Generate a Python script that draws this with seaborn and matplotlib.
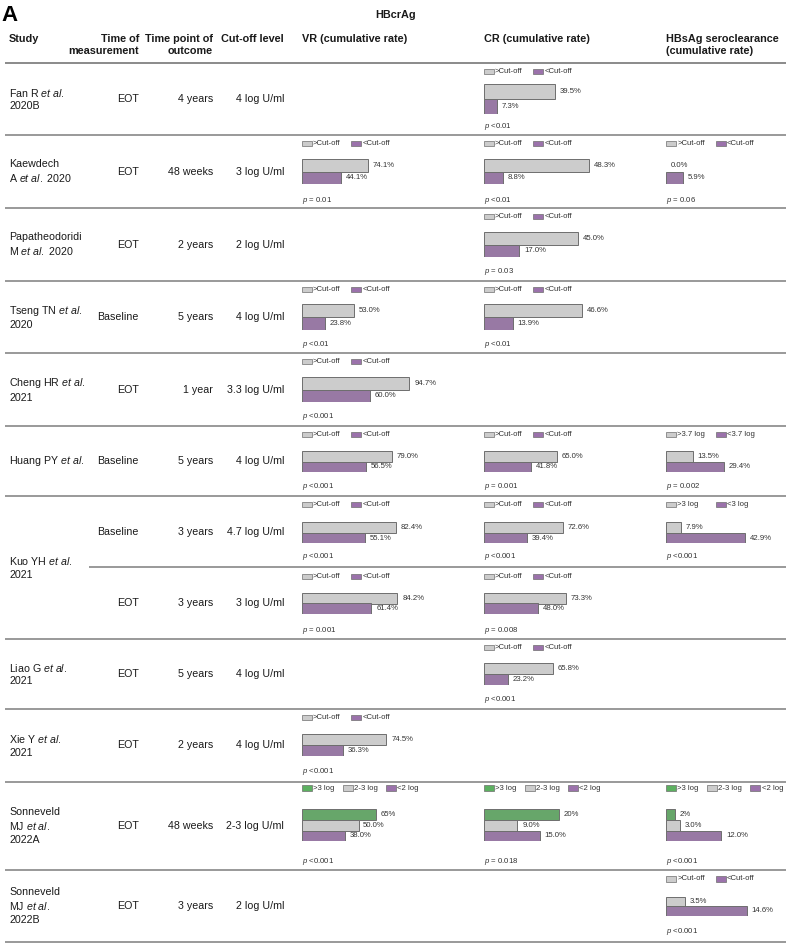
import numpy as np
import pandas as pd
import matplotlib
matplotlib.use("Agg")
import matplotlib.pyplot as plt
import seaborn as sns
from matplotlib.patches import Rectangle

# ---------------- data ----------------
study_labels = ["Fan R et al.\n2020B", "Kaewdech\nA et al. 2020", "Papatheodoridi\nM et al. 2020",
                "Tseng TN et al.\n2020", "Cheng HR et al.\n2021", "Huang PY et al.",
                "Kuo YH et al.\n2021", "Liao G et al.\n2021", "Xie Y et al.\n2021",
                "Sonneveld\nMJ et al.\n2022A", "Sonneveld\nMJ et al.\n2022B"]
study_rowspan = [1, 1, 1, 1, 1, 1, 2, 1, 1, 1, 1]

time_measure = ["EOT", "EOT", "EOT", "Baseline", "EOT", "Baseline", "Baseline", "EOT",
                "EOT", "EOT", "EOT", "EOT"]
time_outcome = ["4 years", "48 weeks", "2 years", "5 years", "1 year", "5 years", "3 years",
                "3 years", "5 years", "2 years", "48 weeks", "3 years"]
cutoff_level = ["4 log U/ml", "3 log U/ml", "2 log U/ml", "4 log U/ml", "3.3 log U/ml",
                "4 log U/ml", "4.7 log U/ml", "3 log U/ml", "4 log U/ml", "4 log U/ml",
                "2-3 log U/ml", "2 log U/ml"]

cut_groups = [">Cut-off", "<Cut-off"]
three_groups = [">3 log", "2-3 log", "<2 log"]

vr_values = [None, [74.1, 44.1], None, [53.0, 23.8], [94.7, 60.0], [79.0, 56.5],
             [82.4, 55.1], [84.2, 61.4], None, [74.5, 36.3], [65, 50.0, 38.0], None]
vr_p = [None, "= 0.01", None, "<0.01", "<0.001", "<0.001", "<0.001", "= 0.001", None,
        "<0.001", "<0.001", None]

cr_values = [[39.5, 7.3], [48.3, 8.8], [45.0, 17.0], [46.6, 13.9], None, [65.0, 41.8],
             [72.6, 39.4], [73.3, 48.0], [65.8, 23.2], None, [20, 9.0, 15.0], None]
cr_p = ["<0.01", "<0.01", "= 0.03", "<0.01", None, "= 0.001", "<0.001", "= 0.008",
        "<0.001", None, "= 0.018", None]

hbs_values = [None, [0.0, 5.9], None, None, None, [13.5, 29.4], [7.9, 42.9], None, None,
              None, [2, 3.0, 12.0], [3.5, 14.6]]
hbs_p = [None, "= 0.06", None, None, None, "= 0.002", "<0.001", None, None, None,
         "<0.001", "<0.001"]
hbs_groups = [None, cut_groups, None, None, None, [">3.7 log", "<3.7 log"],
              [">3 log", "<3 log"], None, None, None, three_groups, cut_groups]

# per-cell scale (pixels per percentage point), each mini chart has its own axis
vr_scale = [None, 0.90, None, 0.99, 1.14, 1.14, 1.15, 1.14, None, 1.14, 1.14, None]
cr_scale = [1.81, 2.18, 2.11, 2.12, None, 1.13, 1.10, 1.13, 1.05, None, 3.77, None]
hbs_scale = [None, 2.9, None, None, None, 1.97, 1.84, None, None, None, 4.6, 5.55]

# ---------------- layout (pixels) ----------------
W, H = 787, 944
row_edges = [62.7, 135, 208.3, 280.7, 353.3, 426, 496, 567.3, 638.7, 709, 782, 870, 942]
legend_off = [8.5, 8.7, 8.2, 8.5, 8.4, 8.2, 8.5, 9.2, 8.4, 8.8, 6.0, 9.0]
bar_band = [(21, 51), (24, 49), (23.4, 49), (23.6, 49.3), (24, 48.4), (24.7, 46.3),
            (26.3, 47.3), (25.4, 47), (24, 46), (24.6, 46.6), (27, 59.3), (26.7, 45.7)]
p_off = [63.3, 65, 63.4, 63.3, 63.4, 60.7, 61, 62.8, 60.6, 62.3, 79.7, 61.7]
col_x = {"VR": 301.5, "CR": 483.5, "HBS": 666}

GRAY = "#cccccc"
PURPLE = "#9b72ab"
GREEN = "#5cb060"
EDGE = "#6e6e6e"
LINE = "#7d7d7d"
TXT = "#1a1a1a"
SMALL = "#333333"

sns.set_theme(style="white")
plt.rcParams["font.family"] = ["Liberation Sans", "DejaVu Sans"]
plt.rcParams["mathtext.fontset"] = "custom"
plt.rcParams["mathtext.rm"] = "Liberation Sans"
plt.rcParams["mathtext.it"] = "Liberation Sans:italic"
plt.rcParams["mathtext.bf"] = "Liberation Sans:bold"

fig = plt.figure(figsize=(W / 100, H / 100), dpi=100)
fig.patch.set_facecolor("white")
ax0 = fig.add_axes([0, 0, 1, 1])
ax0.set_xlim(0, W)
ax0.set_ylim(H, 0)
ax0.axis("off")

BIG = 7.7
SM = 5.6

# titles & headers
ax0.text(1, 15.5, "A", fontsize=16, fontweight="bold", ha="left", va="center", color="black")
ax0.text(396, 15, "HBcrAg", fontsize=7.8, fontweight="bold", ha="center", va="center", color=TXT)
hdr = dict(fontsize=7.8, fontweight="bold", va="center", color=TXT)
ax0.text(9, 39, "Study", ha="left", **hdr)
ax0.text(139, 39, "Time of", ha="right", **hdr)
ax0.text(139, 51, "measurement", ha="right", **hdr)
ax0.text(213, 39, "Time point of", ha="right", **hdr)
ax0.text(213, 51, "outcome", ha="right", **hdr)
ax0.text(284, 39, "Cut-off level", ha="right", **hdr)
ax0.text(col_x["VR"], 39, "VR (cumulative rate)", ha="left", **hdr)
ax0.text(col_x["CR"], 39, "CR (cumulative rate)", ha="left", **hdr)
ax0.text(col_x["HBS"], 39, "HBsAg seroclearance", ha="left", **hdr)
ax0.text(col_x["HBS"], 51, "(cumulative rate)", ha="left", **hdr)

# horizontal rules
for k, y in enumerate(row_edges):
    if k == 7:
        ax0.plot([89, 786], [y, y], color=LINE, lw=1.1, solid_capstyle="butt")
    else:
        ax0.plot([5, 786], [y, y], color=LINE if k else "#8a8a8a", lw=1.1 if k else 1.4,
                 solid_capstyle="butt")

# left text columns
r = 0
for lab, span in zip(study_labels, study_rowspan):
    yc = (row_edges[r] + row_edges[r + span]) / 2
    txt = lab.replace("et al.", r"$\mathit{et\ al.}$")
    ax0.text(9, yc, txt, fontsize=BIG, ha="left", va="center", color=TXT, linespacing=1.3)
    r += span
for i in range(len(time_measure)):
    yc = (row_edges[i] + row_edges[i + 1]) / 2
    ax0.text(139, yc, time_measure[i], fontsize=BIG, ha="right", va="center", color=TXT)
    ax0.text(213, yc, time_outcome[i], fontsize=BIG, ha="right", va="center", color=TXT)
    ax0.text(284, yc, cutoff_level[i], fontsize=BIG, ha="right", va="center", color=TXT)


def draw_cell(x0, i, vals, groups, scale, ptxt):
    top = row_edges[i]
    n = len(vals)
    colors = [GRAY, PURPLE] if n == 2 else [GREEN, GRAY, PURPLE]
    steps = [0, 49.5] if n == 2 else [0, 41, 84.3]
    ly = top + legend_off[i]
    for g, s, c in zip(groups, steps, colors):
        ax0.add_patch(Rectangle((x0 + s, ly - 2.6), 10, 5.2, fc=c, ec=EDGE, lw=0.5))
        ax0.text(x0 + s + 11.4, ly, g, fontsize=SM, ha="left", va="center", color=SMALL)
    b0, b1 = top + bar_band[i][0], top + bar_band[i][1]
    aw = 170
    ax = fig.add_axes([x0 / W, 1 - b1 / H, aw / W, (b1 - b0) / H])
    df = pd.DataFrame({"group": groups, "value": vals})
    sns.barplot(data=df, x="value", y="group", hue="group", order=groups, hue_order=groups,
                palette=dict(zip(groups, colors)), width=1.0, edgecolor=EDGE, linewidth=0.7,
                legend=False, orient="h", ax=ax)
    for bar in ax.patches:
        if bar.get_width() == 0:
            bar.set_visible(False)
    ax.set_xlim(0, aw / scale)
    ax.set_ylim(n - 0.5, -0.5)
    ax.axis("off")
    ax.patch.set_alpha(0)
    for j, (v, g) in enumerate(zip(vals, groups)):
        lab = f"{v:.0f}%" if (n == 3 and j == 0) else f"{v:.1f}%"
        ax.annotate(lab, xy=(v, j), xytext=(3.4, 0), textcoords="offset points",
                    fontsize=SM, ha="left", va="center", color=SMALL, annotation_clip=False)
    ax0.text(x0, top + p_off[i], r"$\mathit{p}$ " + ptxt, fontsize=SM, ha="left",
             va="center", color=SMALL)


for i in range(12):
    if vr_values[i] is not None:
        groups = three_groups if len(vr_values[i]) == 3 else cut_groups
        draw_cell(col_x["VR"], i, vr_values[i], groups, vr_scale[i], vr_p[i])
    if cr_values[i] is not None:
        groups = three_groups if len(cr_values[i]) == 3 else cut_groups
        draw_cell(col_x["CR"], i, cr_values[i], groups, cr_scale[i], cr_p[i])
    if hbs_values[i] is not None:
        draw_cell(col_x["HBS"], i, hbs_values[i], hbs_groups[i], hbs_scale[i], hbs_p[i])

fig.savefig("out.png", dpi=100, facecolor="white")
